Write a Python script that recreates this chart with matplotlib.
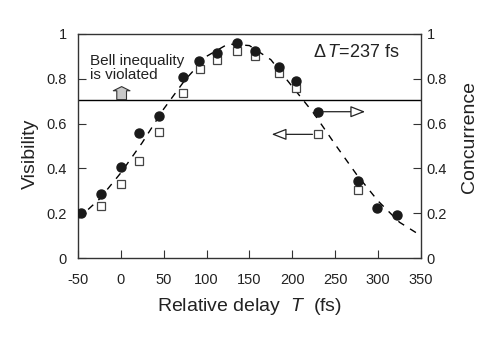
import matplotlib
matplotlib.use('Agg')
import matplotlib.pyplot as plt

plt.rcParams['font.family'] = ['Liberation Sans', 'DejaVu Sans']
plt.rcParams['mathtext.fontset'] = 'custom'
plt.rcParams['mathtext.rm'] = 'Liberation Sans'
plt.rcParams['mathtext.it'] = 'Liberation Sans:italic'
plt.rcParams['axes.unicode_minus'] = False

# visibility (filled circles)
delay_vis = [-46, -23, 0, 21, 45, 72, 91, 112, 135, 157, 184, 204, 230, 277, 299, 322]
visibility = [0.202, 0.286, 0.408, 0.557, 0.634, 0.807, 0.881, 0.917, 0.958, 0.925,
              0.854, 0.790, 0.653, 0.344, 0.222, 0.192]

# concurrence (open squares)
delay_conc = [-23, 0, 21, 45, 72, 92, 112, 135, 157, 184, 204, 230, 277]
concurrence = [0.232, 0.330, 0.432, 0.562, 0.735, 0.842, 0.884, 0.923, 0.902,
               0.824, 0.760, 0.552, 0.304]

# dashed fit curve
fit_delay = [-50, -25, 0, 25, 50, 75, 100, 125, 150, 175, 200, 225, 250, 275, 300, 325, 350]
fit_vis = [0.175, 0.263, 0.38, 0.515, 0.665, 0.795, 0.90, 0.955, 0.948, 0.885, 0.765,
           0.646, 0.507, 0.373, 0.255, 0.160, 0.100]

bell_limit = 0.707

fig = plt.figure(figsize=(4.9, 3.46), dpi=100)
ax = fig.add_axes([0.159, 0.254, 0.700, 0.648])

ax.plot(fit_delay, fit_vis, color='black', linestyle=(0, (5, 5)), linewidth=1.0, zorder=2)
ax.plot(delay_conc, concurrence, linestyle='none', marker='s', markersize=5.5,
        markerfacecolor='white', markeredgecolor='#444444', markeredgewidth=0.9, zorder=3)
ax.plot(delay_vis, visibility, linestyle='none', marker='o', markersize=6.5,
        color='#1a1a1a', zorder=4)

ax.axhline(bell_limit, color='black', linewidth=1.0, zorder=1)

ax.set_xlim(-50, 350)
ax.set_ylim(0, 1)
ax.set_xticks(range(-50, 351, 50))
ax.set_yticks([0, 0.2, 0.4, 0.6, 0.8, 1])
ax.set_yticklabels(['0', '0.2', '0.4', '0.6', '0.8', '1'])
ax.tick_params(axis='both', direction='in', length=6, width=0.8, labelsize=10.5, color='#333333',
               labelcolor='#222222')
ax.tick_params(axis='x', pad=11)
ax.tick_params(axis='y', pad=8)
for s in ax.spines.values():
    s.set_linewidth(1.0)
    s.set_color('#333333')

ax2 = ax.twinx()
ax2.set_ylim(0, 1)
ax2.set_yticks([0, 0.2, 0.4, 0.6, 0.8, 1])
ax2.set_yticklabels(['0', '0.2', '0.4', '0.6', '0.8', '1'])
ax2.tick_params(axis='y', direction='in', length=6, width=0.8, labelsize=10.5, pad=4,
                color='#333333', labelcolor='#222222')
for s in ax2.spines.values():
    s.set_visible(False)

ax.set_xlabel('Relative delay  $T$  (fs)', fontsize=14, labelpad=6, color='#222222')
ax.set_ylabel('Visibility', fontsize=14, color='#222222')
ax.yaxis.set_label_coords(-0.115, 0.464)
ax2.set_ylabel('Concurrence', fontsize=14, color='#222222')
ax2.yaxis.set_label_coords(1.117, 0.54)

ax.text(-36, 0.785, 'Bell inequality\nis violated', fontsize=11, linespacing=1.05,
        ha='left', va='bottom', color='#222222')
ax.annotate('', xy=(1, 0.765), xytext=(1, bell_limit),
            arrowprops=dict(arrowstyle='simple,head_length=0.3,head_width=1.2,tail_width=0.7',
                            fc='#c8c8c8', ec='#333333', lw=0.8, shrinkA=0, shrinkB=0))

ax.text(224, 0.88, '$\\Delta\\,T$=237 fs', fontsize=13, ha='left', va='bottom', color='#222222')

ax.annotate('', xy=(285, 0.653), xytext=(230, 0.653),
            arrowprops=dict(arrowstyle='-|>,head_length=0.9,head_width=0.35', mutation_scale=10,
                            fc='white', ec='#222222', lw=0.9, shrinkA=4, shrinkB=0))
ax.annotate('', xy=(176, 0.552), xytext=(230, 0.552),
            arrowprops=dict(arrowstyle='-|>,head_length=0.9,head_width=0.35', mutation_scale=10,
                            fc='white', ec='#222222', lw=0.9, shrinkA=4, shrinkB=0))

fig.savefig('out.png', dpi=100)
